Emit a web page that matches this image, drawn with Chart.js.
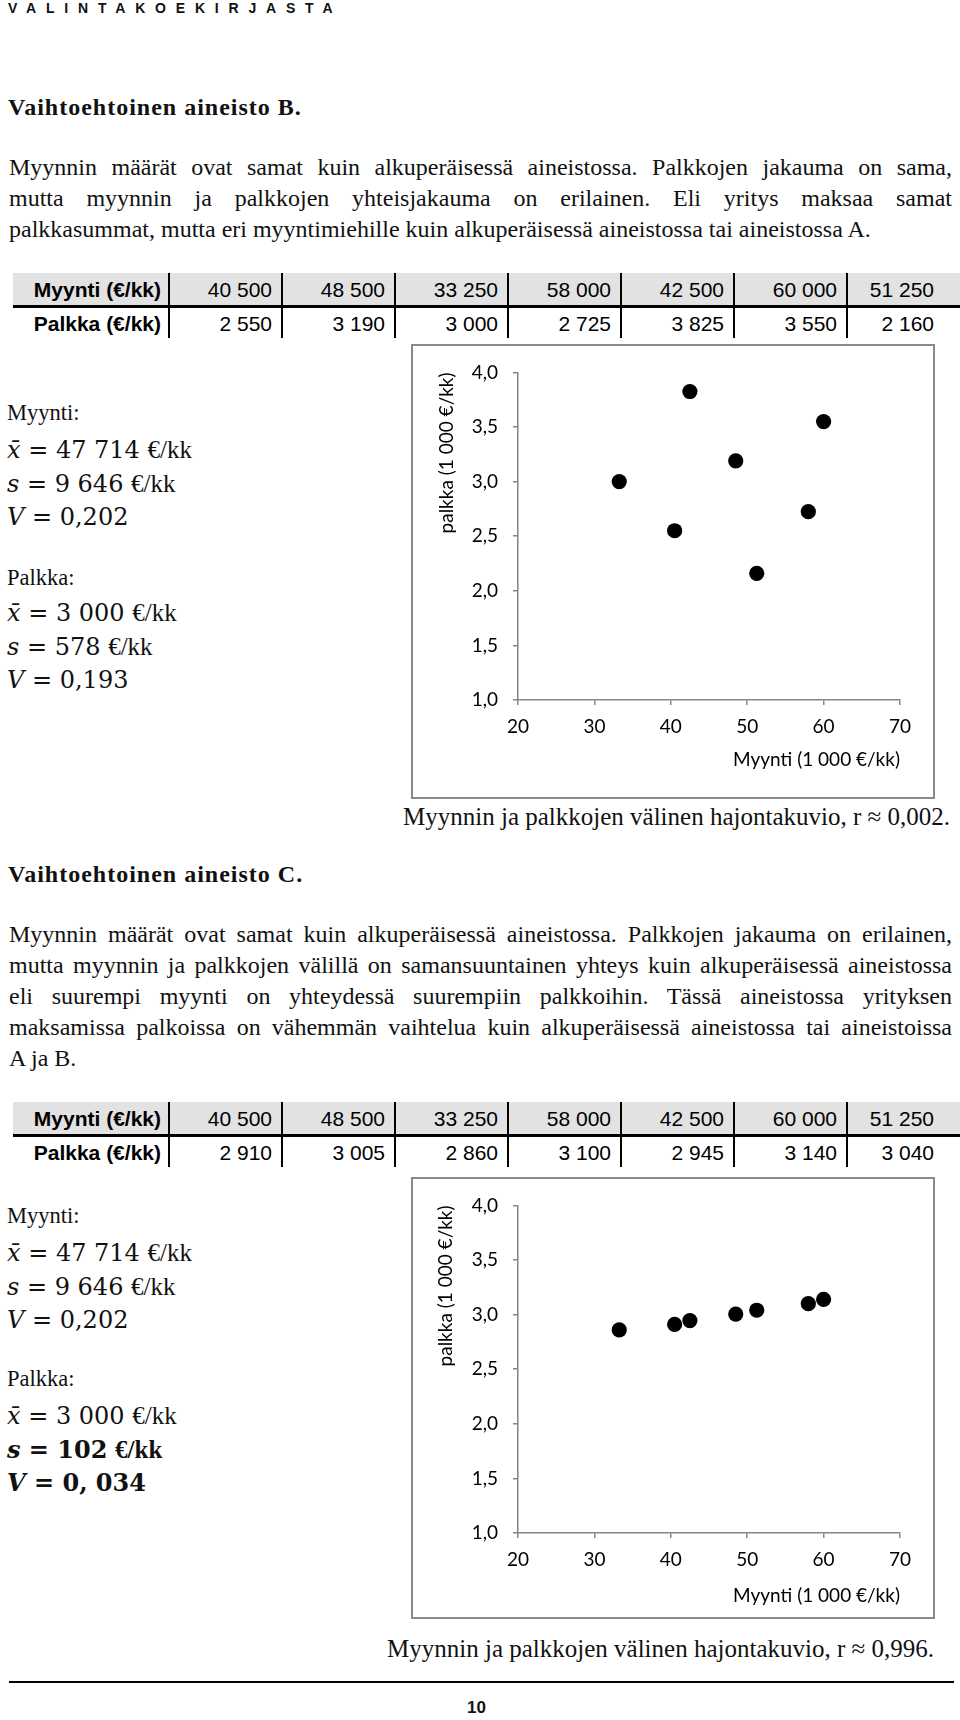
<!DOCTYPE html>
<html lang="fi">
<head>
<meta charset="utf-8">
<title>Vaihtoehtoiset aineistot B ja C</title>
<script src="https://cdn.jsdelivr.net/npm/chart.js@4.4.1/dist/chart.umd.min.js"></script>
<style>
  html, body { margin: 0; padding: 0; background: #fff; }
  body { width: 960px; height: 1720px; position: relative; overflow: hidden;
         font-family: 'Liberation Serif', 'Times New Roman', serif; color: #111; }
  .abs { position: absolute; }
  .header { left: 8px; top: 0px; font: bold 14px 'Liberation Sans', Arial, sans-serif; letter-spacing: 9.8px; }
  .heading { left: 8px; font-size: 24px; font-weight: bold; letter-spacing: 1px; line-height: 30px; }
  .para { left: 9px; width: 943px; font-size: 24px; line-height: 31px; }
  .para span { display: block; text-align: justify; text-align-last: justify; }
  .para span.last { text-align-last: left; }
  table.data { position: absolute; left: 13px; width: 947px; border-collapse: collapse; table-layout: fixed;
               font: 21px 'Liberation Sans', Arial, sans-serif; color: #000; }
  table.data td { text-align: right; padding: 0 9px 0 0; border-right: 2px solid #000; line-height: 1; }
  table.data td:first-child { width: 148px; font-weight: bold; padding-right: 7px; }
  table.data td:last-child { border-right: none; padding-right: 26px; }
  table.data tr.r1 td { background: #e2e2e2; height: 32px; border-bottom: 3px solid #000; }
  table.data tr.r2 td { height: 30px; }
  .stat { left: 7px; font-size: 22.5px; line-height: 30px; white-space: nowrap; }
  .m { font-family: 'DejaVu Serif', serif; font-size: 24px; }
  .m i { font-style: italic; }
  .u { font-size: 25px; margin-left: 2px; }
  .bold { font-weight: bold; }
  .box { position: absolute; left: 411px; width: 524px; border: 2px solid #8a8a8a; box-sizing: border-box; }
  .box canvas { display: block; }
  .caption { font-size: 25px; line-height: 30px; white-space: nowrap; text-align: right; }
  .rule { left: 9px; width: 945px; height: 0; border-top: 2px solid #000; }
  .pageno { font: bold 17px 'Liberation Sans', Arial, sans-serif; }
</style>
</head>
<body>

<div class="abs header">VALINTAKOEKIRJASTA</div>

<div class="abs heading" style="top:92px">Vaihtoehtoinen aineisto B.</div>
<div class="abs para" style="top:152px">
  <span>Myynnin määrät ovat samat kuin alkuperäisessä aineistossa. Palkkojen jakauma on sama,</span>
  <span>mutta myynnin ja palkkojen yhteisjakauma on erilainen. Eli yritys maksaa samat</span>
  <span class="last">palkkasummat, mutta eri myyntimiehille kuin alkuperäisessä aineistossa tai aineistossa A.</span>
</div>

<table class="data" id="tableB" style="top:273px"></table>

<div class="abs stat" style="top:398px">Myynti:</div>
<div class="abs stat" style="top:435px"><span class="m"><i>x̄</i> = 47 714</span> <span class="u">€/kk</span></div>
<div class="abs stat" style="top:469px"><span class="m"><i>s</i> = 9 646</span> <span class="u">€/kk</span></div>
<div class="abs stat" style="top:502px"><span class="m"><i>V</i> = 0,202</span></div>
<div class="abs stat" style="top:563px">Palkka:</div>
<div class="abs stat" style="top:598px"><span class="m"><i>x̄</i> = 3 000</span> <span class="u">€/kk</span></div>
<div class="abs stat" style="top:632px"><span class="m"><i>s</i> = 578</span> <span class="u">€/kk</span></div>
<div class="abs stat" style="top:665px"><span class="m"><i>V</i> = 0,193</span></div>

<div class="box" style="top:344px;height:455px"><canvas id="chartB" width="520" height="451"></canvas></div>
<div class="abs caption" style="top:802px;right:10px">Myynnin ja palkkojen välinen hajontakuvio, r ≈ 0,002.</div>

<div class="abs heading" style="top:859px">Vaihtoehtoinen aineisto C.</div>
<div class="abs para" style="top:919px">
  <span>Myynnin määrät ovat samat kuin alkuperäisessä aineistossa. Palkkojen jakauma on erilainen,</span>
  <span>mutta myynnin ja palkkojen välillä on samansuuntainen yhteys kuin alkuperäisessä aineistossa</span>
  <span>eli suurempi myynti on yhteydessä suurempiin palkkoihin. Tässä aineistossa yrityksen</span>
  <span>maksamissa palkoissa on vähemmän vaihtelua kuin alkuperäisessä aineistossa tai aineistoissa</span>
  <span class="last">A ja B.</span>
</div>

<table class="data" id="tableC" style="top:1102px"></table>

<div class="abs stat" style="top:1201px">Myynti:</div>
<div class="abs stat" style="top:1238px"><span class="m"><i>x̄</i> = 47 714</span> <span class="u">€/kk</span></div>
<div class="abs stat" style="top:1272px"><span class="m"><i>s</i> = 9 646</span> <span class="u">€/kk</span></div>
<div class="abs stat" style="top:1305px"><span class="m"><i>V</i> = 0,202</span></div>
<div class="abs stat" style="top:1364px">Palkka:</div>
<div class="abs stat" style="top:1401px"><span class="m"><i>x̄</i> = 3 000</span> <span class="u">€/kk</span></div>
<div class="abs stat bold" style="top:1435px"><span class="m"><i>s</i> = 102</span> <span class="u">€/kk</span></div>
<div class="abs stat bold" style="top:1468px"><span class="m"><i>V</i> = 0, 034</span></div>

<div class="box" style="top:1177px;height:442px"><canvas id="chartC" width="520" height="438"></canvas></div>
<div class="abs caption" style="top:1634px;right:26px">Myynnin ja palkkojen välinen hajontakuvio, r ≈ 0,996.</div>

<div class="abs rule" style="top:1681px"></div>
<div class="abs pageno" style="top:1698px;left:467px">10</div>

<script>
const myynti = [40500, 48500, 33250, 58000, 42500, 60000, 51250];
const palkkaB = [2550, 3190, 3000, 2725, 3825, 3550, 2160];
const palkkaC = [2910, 3005, 2860, 3100, 2945, 3140, 3040];
const rowLabels = ['Myynti (€/kk)', 'Palkka (€/kk)'];
const xTicks = [20, 30, 40, 50, 60, 70];
const yTicks = [1.0, 1.5, 2.0, 2.5, 3.0, 3.5, 4.0];
const xTitle = 'Myynti (1 000 €/kk)';
const yTitle = 'palkka (1 000 €/kk)';

function fmt(n) {
    return String(n).replace(/\B(?=(\d{3})+(?!\d))/g, ' ');
}

function fillTable(id, palkka) {
    let t = document.getElementById(id);
    let r1 = '<tr class="r1"><td>' + rowLabels[0] + '</td>' + myynti.map(v => '<td>' + fmt(v) + '</td>').join('') + '</tr>';
    let r2 = '<tr class="r2"><td>' + rowLabels[1] + '</td>' + palkka.map(v => '<td>' + fmt(v) + '</td>').join('') + '</tr>';
    t.innerHTML = r1 + r2;
}

fillTable('tableB', palkkaB);
fillTable('tableC', palkkaC);

const axisGray = '#868686';
const tickFont = { family: 'Lato', size: 19 };

function makeChart(id, palkka, g) {
    const ctx = document.getElementById(id).getContext('2d');
    return new Chart(ctx, {
        type: 'scatter',
        data: {
            datasets: [{
                data: myynti.map((m, i) => ({ x: m / 1000, y: palkka[i] / 1000 })),
                pointRadius: 7.6,
                pointHoverRadius: 7.6,
                pointBackgroundColor: '#000',
                pointBorderWidth: 0
            }]
        },
        options: {
            responsive: false,
            animation: false,
            events: [],
            layout: { padding: { top: g.padTop, right: g.padRight, left: 0, bottom: 0 } },
            plugins: { legend: { display: false }, tooltip: { enabled: false } },
            scales: {
                x: {
                    type: 'linear',
                    min: 20,
                    max: 70,
                    afterBuildTicks: s => { s.ticks = xTicks.map(v => ({ value: v })); },
                    afterFit: s => { s.height = g.xH; },
                    grid: { drawOnChartArea: false, drawTicks: true, tickLength: 5, color: axisGray, lineWidth: 1.5 },
                    border: { color: axisGray, width: 1.5 },
                    ticks: { color: '#000', font: tickFont, padding: 10, maxRotation: 0,
                             callback: v => String(v) },
                    title: { display: true, text: xTitle, align: 'end', color: '#000', font: tickFont,
                             padding: { top: 0, bottom: g.xTitlePad } }
                },
                y: {
                    type: 'linear',
                    min: 1,
                    max: 4,
                    afterBuildTicks: s => { s.ticks = yTicks.map(v => ({ value: v })); },
                    afterFit: s => { s.width = g.yW; },
                    grid: { drawOnChartArea: false, drawTicks: true, tickLength: 5, color: axisGray, lineWidth: 1.5 },
                    border: { color: axisGray, width: 1.5 },
                    ticks: { color: '#000', font: tickFont, padding: 15,
                             callback: v => v.toFixed(1).replace('.', ',') },
                    title: { display: true, text: yTitle, align: 'end', color: '#000', font: tickFont,
                             padding: { top: g.yTitlePad, bottom: 0 } }
                }
            }
        }
    });
}

makeChart('chartB', palkkaB, { padTop: 20, padRight: 33, xH: 97, yW: 105, xTitlePad: 25.6, yTitlePad: 22.6 });
makeChart('chartC', palkkaC, { padTop: 20, padRight: 33, xH: 84, yW: 105, xTitlePad: 9.6, yTitlePad: 21.6 });
</script>
</body>
</html>
